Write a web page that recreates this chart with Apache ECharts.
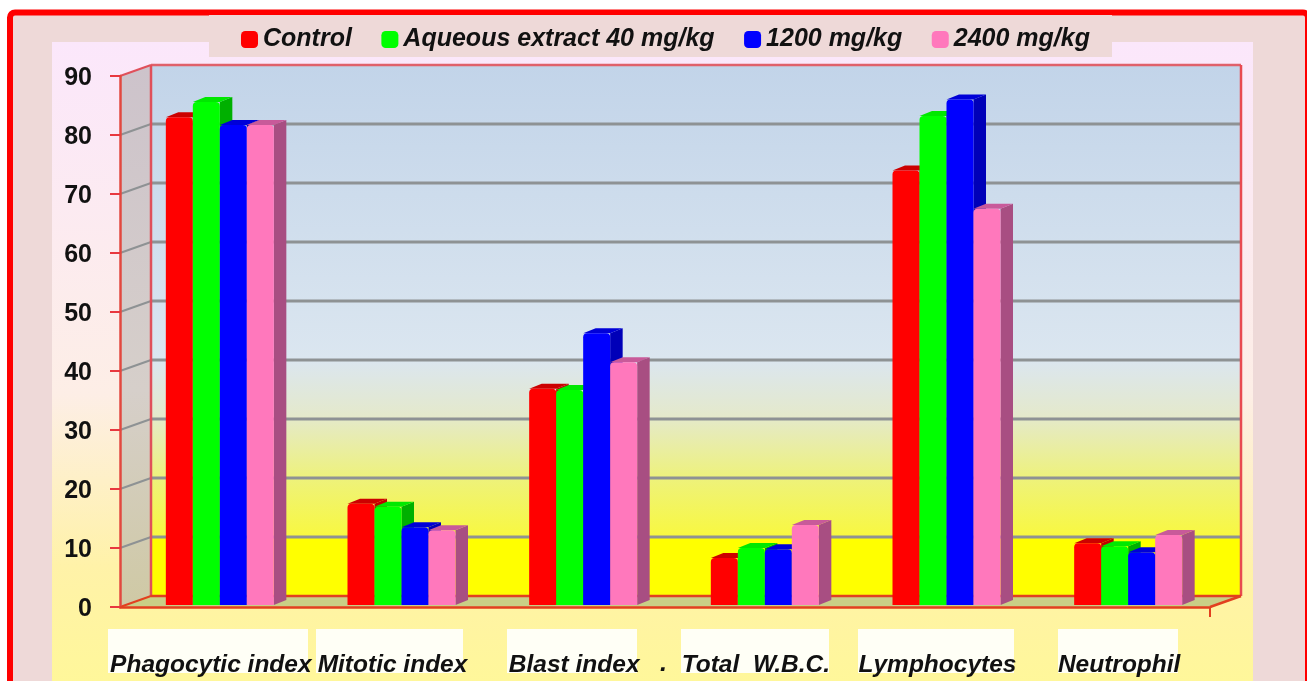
<!DOCTYPE html>
<html>
<head>
<meta charset="utf-8">
<title>Chart</title>
<style>
html, body { margin: 0; padding: 0; background: #fff; }
#chart { width: 1307px; height: 681px; }
</style>
<script src="https://cdn.jsdelivr.net/npm/echarts@6/dist/echarts.min.js"></script>
</head>
<body>
<div id="chart"></div>
<script>
// values
var categories = ['Phagocytic index', 'Mitotic index', 'Blast index', 'Total  W.B.C.', 'Lymphocytes', 'Neutrophil'];
var yTicks = [0, 10, 20, 30, 40, 50, 60, 70, 80, 90];
var control = [83, 17.5, 37, 8.3, 74, 10.8];
var aqueous40 = [85.6, 17, 36.8, 10, 83.2, 10.3];
var dose1200 = [81.7, 13.5, 46.4, 9.8, 86, 9.3];
var dose2400 = [81.7, 13, 41.5, 13.9, 67.5, 12.2];

var font = '"Liberation Sans", Arial, sans-serif';
var axisRed = '#e2401f';
var depthX = 31, depthY = -11; // wall offset
var barW = 27, barDX = 12.5, barDY = -5;

var chart = echarts.init(document.getElementById('chart'));

function line(x1, y1, x2, y2, color, w) {
    return { type: 'line', shape: { x1: x1, y1: y1, x2: x2, y2: y2 }, style: { stroke: color, lineWidth: w } };
}
function poly(points, fill) {
    return { type: 'polygon', shape: { points: points }, style: { fill: fill } };
}

// side wall, back wall, floor and the grid lines
function renderFrame(params, api) {
    var c = params.coordSys;
    var l = c.x, r = c.x + c.width, t = c.y, b = c.y + c.height;
    var kids = [];
    kids.push(poly([[l, t], [l + depthX, t + depthY], [l + depthX, b + depthY], [l, b]],
        new echarts.graphic.LinearGradient(0, 0, 0, 1, [
            { offset: 0, color: '#cdc3cb' }, { offset: 0.6, color: '#d6cfca' }, { offset: 1, color: '#cfc9a4' }
        ])));
    kids.push(poly([[l + depthX, t + depthY], [r + depthX, t + depthY], [r + depthX, b + depthY], [l + depthX, b + depthY]],
        new echarts.graphic.LinearGradient(0, 0, 0, 1, [
            { offset: 0, color: '#c2d4e9' },
            { offset: 0.555, color: '#dbe6f0' },
            { offset: 0.66, color: '#e4e9cc' },
            { offset: 0.78, color: '#eef27a' },
            { offset: 0.888, color: '#f8f840' },
            { offset: 0.889, color: '#ffff00' },
            { offset: 1, color: '#ffff00' }
        ])));
    kids.push(poly([[l, b], [l + depthX, b + depthY], [r + depthX, b + depthY], [r, b]], '#c9cf86'));
    yTicks.forEach(function (v) {
        if (v === 0 || v === 90) return;
        var y = api.coord([0, v])[1];
        kids.push(line(l + depthX, y + depthY, r + depthX, y + depthY, '#8e9294', 3));
        kids.push(line(l, y, l + depthX, y + depthY, '#8e9294', 2));
    });
    // red outline
    kids.push(line(l + depthX, t + depthY, r + depthX, t + depthY, '#e0606a', 2.5));
    kids.push(line(r + depthX, t + depthY, r + depthX, b + depthY, '#e84a50', 2.5));
    kids.push(line(l + depthX, t + depthY, l + depthX, b + depthY, '#e0505a', 2.5));
    kids.push(line(l + depthX, b + depthY, r + depthX, b + depthY, axisRed, 2.5));
    kids.push(line(l, t, l + depthX, t + depthY, '#e0505a', 2));
    kids.push(line(l, b, l + depthX, b + depthY, axisRed, 2));
    kids.push(line(r, b, r + depthX, b + depthY, axisRed, 2.5));
    kids.push(line(r, b, r, b + 10, axisRed, 2));
    return { type: 'group', children: kids };
}

function barRenderer(index, front, side, cap) {
    return function (params, api) {
        var top = api.coord([api.value(0), api.value(1)]);
        var base = api.coord([api.value(0), 0]);
        var x = top[0] - 45 + index * barW;
        var y = top[1];
        var y0 = base[1] - 2;
        return {
            type: 'group',
            children: [
                poly([[x + barW, y], [x + barW + barDX, y + barDY], [x + barW + barDX, y0 + barDY], [x + barW, y0]], side),
                poly([[x, y], [x + barDX, y + barDY], [x + barW + barDX, y + barDY], [x + barW, y]], cap),
                { type: 'rect', shape: { x: x, y: y, width: barW, height: y0 - y, r: [4, 4, 0, 0] }, style: { fill: front } }
            ]
        };
    };
}

function barSeries(name, values, index, front, side, cap) {
    return {
        name: name,
        type: 'custom',
        coordinateSystem: 'cartesian2d',
        z: 3 + index,
        itemStyle: { color: front },
        encode: { x: 0, y: 1 },
        data: values.map(function (v, i) { return [i, v]; }),
        renderItem: barRenderer(index, front, side, cap)
    };
}

function labelPatch(x, w) {
    return { type: 'rect', z: 0, shape: { x: x, y: 629, width: w, height: 44 }, style: { fill: '#fffff6' } };
}

var option = {
    animation: false,
    backgroundColor: '#ffffff',
    grid: { left: 120, right: 97, top: 76, bottom: 74 },
    graphic: [
        // outer red frame
        { type: 'rect', z: 0, shape: { x: 10, y: 12.5, width: 1298, height: 700, r: 5 }, style: { fill: '#eed9d8', stroke: '#ff0000', lineWidth: 6 } },
        // inner panel
        {
            type: 'rect', z: 0, shape: { x: 52, y: 42, width: 1201, height: 640 },
            style: {
                fill: new echarts.graphic.LinearGradient(0, 0, 0, 1, [
                    { offset: 0, color: '#fbe7fb' }, { offset: 0.55, color: '#fdeee6' }, { offset: 0.82, color: '#fff2a8' }, { offset: 1, color: '#fff79a' }
                ])
            }
        },
        // patch behind legend
        { type: 'rect', z: 0, shape: { x: 209, y: 15, width: 903, height: 42 }, style: { fill: '#eed9d8' } },
        labelPatch(108, 200), labelPatch(316, 147), labelPatch(507, 130),
        labelPatch(681, 148), labelPatch(858, 156), labelPatch(1058, 120),
        { type: 'text', z: 5, style: { x: 660, y: 652, text: '.', font: 'italic bold 25px ' + font, fill: '#111' } }
    ],
    legend: {
        left: 236,
        top: 22,
        itemWidth: 17,
        itemHeight: 17,
        itemGap: 29.5,
        icon: 'roundRect',
        data: ['Control', 'Aqueous extract 40 mg/kg', '1200 mg/kg', '2400 mg/kg'],
        textStyle: { fontFamily: font, fontSize: 25, fontWeight: 'bold', fontStyle: 'italic', color: '#111' }
    },
    xAxis: {
        type: 'category',
        data: categories,
        z: 8,
        axisLine: { lineStyle: { color: axisRed, width: 2.5 } },
        axisTick: { alignWithLabel: true, length: 10, lineStyle: { color: axisRed, width: 2 } },
        axisLabel: { interval: 0, margin: 46, fontFamily: font, fontSize: 24.5, fontWeight: 'bold', fontStyle: 'italic', color: '#111' }
    },
    yAxis: {
        type: 'value',
        min: 0,
        max: 90,
        interval: 10,
        z: 8,
        splitLine: { show: false },
        axisLine: { show: true, lineStyle: { color: '#e2483f', width: 2.5 } },
        axisTick: { show: true, length: 10, lineStyle: { color: '#e8383f', width: 2 } },
        axisLabel: {
            margin: 28,
            formatter: '{num|{value}}',
            rich: { num: { padding: [4, 0, 0, 0], fontFamily: font, fontSize: 25, fontWeight: 'bold', color: '#111' } }
        }
    },
    series: [
        { name: 'frame', type: 'custom', coordinateSystem: 'cartesian2d', z: 1, silent: true, data: [[0, 0]], renderItem: renderFrame },
        barSeries('Control', control, 0, '#ff0000', '#c00000', '#cc0000'),
        barSeries('Aqueous extract 40 mg/kg', aqueous40, 1, '#00ff00', '#00b000', '#00e800'),
        barSeries('1200 mg/kg', dose1200, 2, '#0000ff', '#0000b8', '#0000d8'),
        barSeries('2400 mg/kg', dose2400, 3, '#ff78bc', '#a84e82', '#c85a9a')
    ]
};

chart.setOption(option);
</script>
</body>
</html>
